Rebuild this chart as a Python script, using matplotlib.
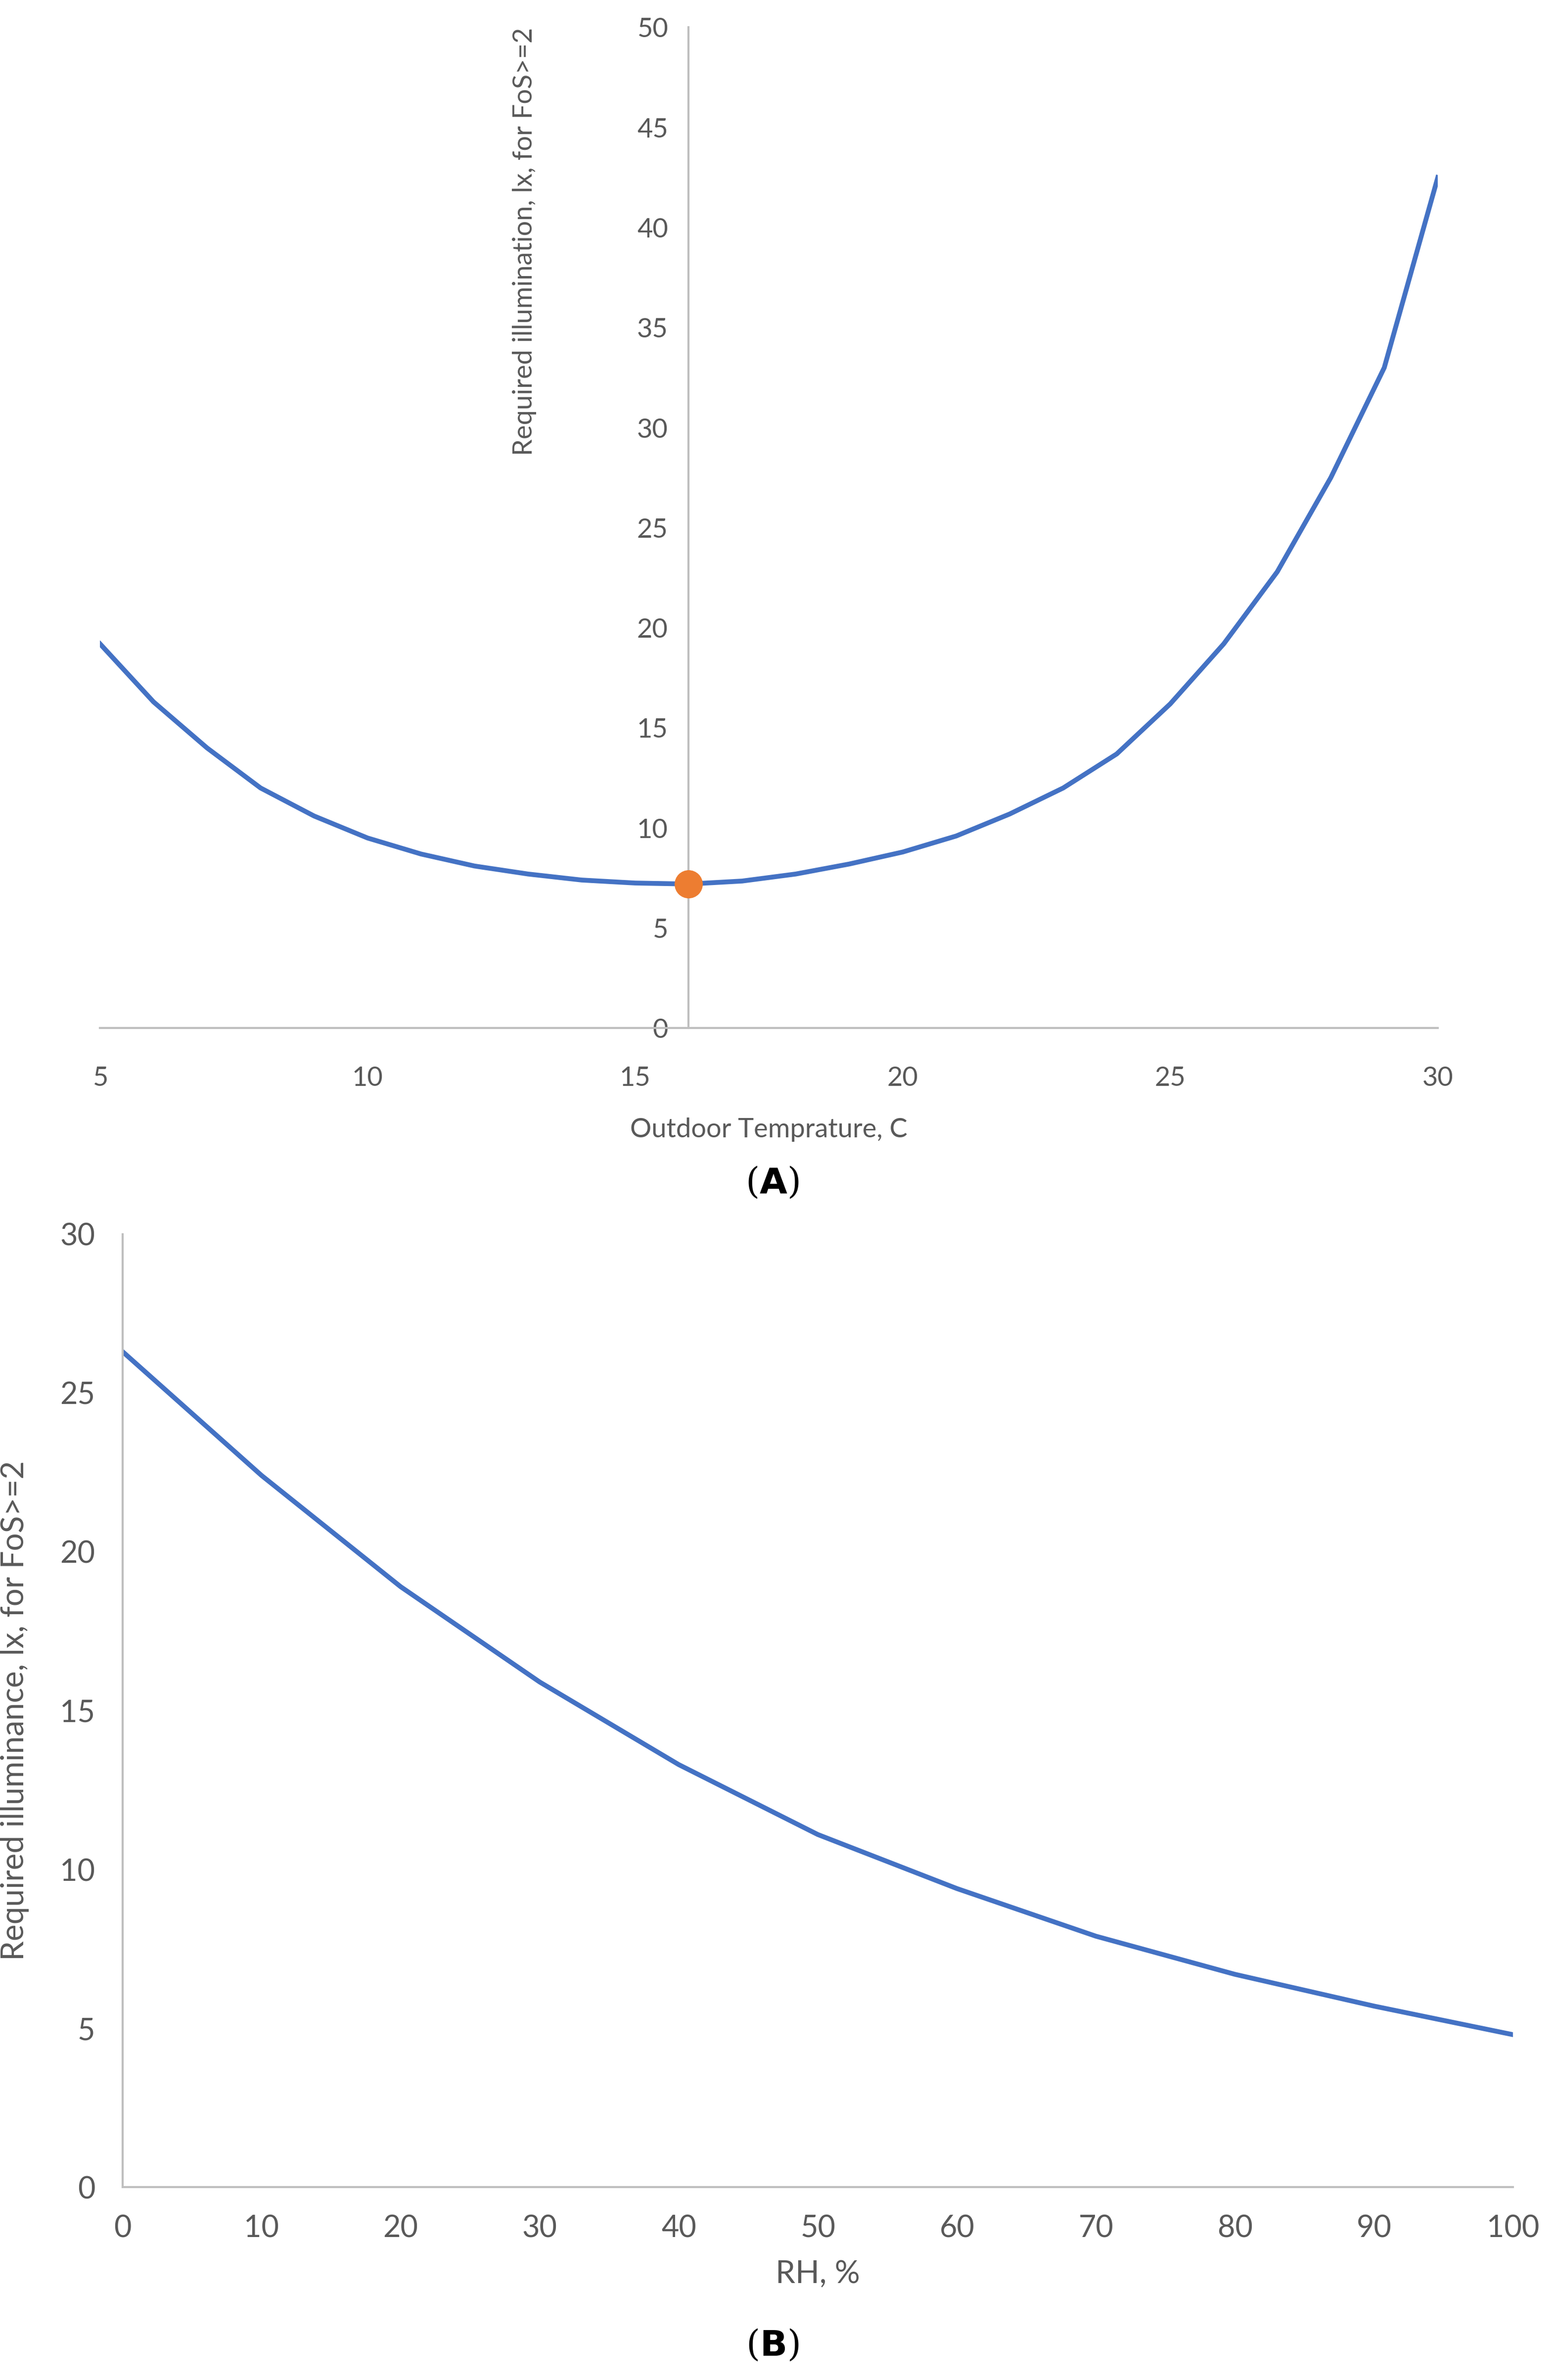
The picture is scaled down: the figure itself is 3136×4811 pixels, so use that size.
import matplotlib
matplotlib.use("Agg")
import matplotlib.pyplot as plt

plt.rcParams['font.family'] = ['Lato', 'DejaVu Sans']

# Panel A: outdoor temperature vs required illumination
temp_c = [5, 6, 7, 8, 9, 10, 11, 12, 13, 14, 15, 16, 17, 18, 19, 20,
          21, 22, 23, 24, 25, 26, 27, 28, 29, 30]
illum_a = [19.2, 16.3, 14.0, 12.0, 10.6, 9.5, 8.7, 8.1, 7.7, 7.4, 7.25, 7.2,
           7.35, 7.7, 8.2, 8.8, 9.6, 10.7, 12.0, 13.7, 16.2, 19.2, 22.8,
           27.5, 33.0, 42.5]
opt_temp = [16]
opt_illum = [7.2]

# Panel B: relative humidity vs required illuminance
rh = [0, 10, 20, 30, 40, 50, 60, 70, 80, 90, 100]
illum_b = [26.3, 22.4, 18.9, 15.9, 13.3, 11.1, 9.4, 7.9, 6.7, 5.7, 4.8]

BLUE = '#4472C4'
ORANGE = '#ED7D31'
TXT = '#595959'
AX = '#BFBFBF'
FS = 39

fig = plt.figure(figsize=(31.36, 48.11), dpi=100)

# ---- A ----
ax = fig.add_axes([0.0645, 0.568, 0.8625, 0.4205])
ax.plot(temp_c, illum_a, color=BLUE, lw=7, solid_joinstyle='round')
ax.plot(opt_temp, opt_illum, 'o', color=ORANGE, ms=40, zorder=5)
ax.set_xlim(5, 30)
ax.set_ylim(0, 50)
ax.set_xticks([5, 10, 15, 20, 25, 30])
ax.set_yticks(range(0, 51, 5))
for s in ['top', 'right']:
    ax.spines[s].set_visible(False)
ax.spines['left'].set_position(('data', 16))
for s in ['left', 'bottom']:
    ax.spines[s].set_color(AX)
    ax.spines[s].set_linewidth(3)
ax.tick_params(axis='x', length=0, labelsize=FS, colors=TXT, pad=55)
ax.tick_params(axis='y', length=0, labelsize=FS, colors=TXT, pad=30)
ax.set_xlabel('Outdoor Temprature, C', fontsize=FS, color=TXT, labelpad=40)
ax.text(12.93, 50, 'Required illumination, lx, for FoS>=2', rotation=90,
        ha='center', va='top', fontsize=FS, color=TXT)
fig.text(0.498, 0.503, r'($\mathbf{A}$)', ha='center', va='center',
         fontsize=52, family='DejaVu Serif')

# ---- B ----
bx = fig.add_axes([0.079, 0.081, 0.8966, 0.4005])
bx.plot(rh, illum_b, color=BLUE, lw=7, solid_joinstyle='round')
bx.set_xlim(0, 100)
bx.set_ylim(0, 30)
bx.set_xticks(range(0, 101, 10))
bx.set_yticks(range(0, 31, 5))
for s in ['top', 'right']:
    bx.spines[s].set_visible(False)
for s in ['left', 'bottom']:
    bx.spines[s].set_color(AX)
    bx.spines[s].set_linewidth(3)
bx.tick_params(length=0, labelsize=44, colors=TXT, pad=40)
bx.set_xlabel('RH, %', fontsize=46, color=TXT, labelpad=25)
bx.set_ylabel('Required illuminance, lx, for FoS>=2', fontsize=46, color=TXT,
              labelpad=45)
fig.text(0.498, 0.0145, r'($\mathbf{B}$)', ha='center', va='center',
         fontsize=52, family='DejaVu Serif')

fig.savefig('out.png', dpi=100, facecolor='white')
